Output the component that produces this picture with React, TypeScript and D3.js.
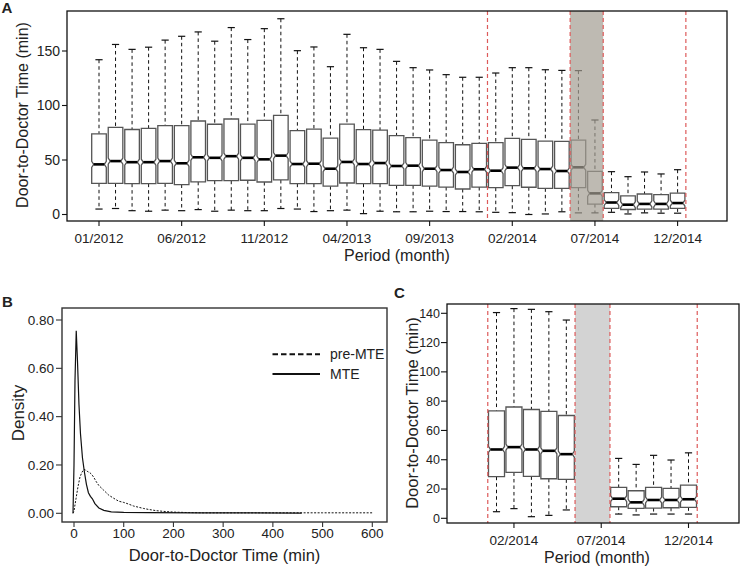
import React from "react";
import * as d3 from "d3";

// ---------- Panel A data (monthly, 01/2012 .. 12/2014) ----------
const upperA = [142, 156, 151.5, 153.5, 160, 163.5, 167.5, 159, 171.5, 160.5, 170.5, 179.6, 150.3, 153.7, 135.6, 165.3, 153, 151.5, 140.5, 134.7, 132.6, 128.3, 125.9, 125.9, 129.8, 134.7, 134.7, 132.8, 132.2, 132, 86.7, 39.3, 34.7, 39, 37.2, 41.1];
const q3A = [74, 80, 78, 79, 81.5, 81.5, 85.8, 82.8, 87.6, 83, 86.4, 91, 76.9, 78.4, 70, 83, 77.8, 77.5, 72.3, 70.5, 68.3, 65.9, 64, 65.3, 65.9, 69.9, 69, 67.4, 67.1, 68.3, 39.6, 20, 17, 18.8, 18.2, 19.7];
const medianA = [46, 49, 48, 48, 49, 47, 52.5, 52, 53.5, 52, 50.6, 54, 46.3, 46.6, 42, 48.2, 46.3, 47.2, 44.5, 44.8, 42, 40.8, 39, 41.5, 40.2, 43, 42.4, 41.7, 39.9, 43.3, 19.4, 11, 9, 9.7, 9.7, 10.5];
const q1A = [28.6, 28.5, 28.3, 28.3, 28.5, 27.5, 30, 31, 31, 31.4, 29.8, 31.7, 28.3, 28.3, 26, 28.9, 28.3, 28.3, 26.8, 26.8, 26, 25.2, 23.4, 25.2, 24.6, 26.4, 25, 24, 24, 24.7, 9.6, 5.6, 4.6, 4.9, 4.9, 5.6];
const lowerA = [5, 5.5, 3.5, 3, 4, 3.5, 4.5, 3, 4, 3.5, 3.5, 5.5, 5, 2.7, 3.5, 4, 0.8, 3, 2.5, 2.5, 3, 2.7, 2.7, 2.5, 2, 1.7, 0, 0.5, 2.5, 1.5, 1.5, 2, 0.5, 1.5, 1.2, 1.2];
const tickIdxA = [0, 5, 10, 15, 20, 25, 30, 35];
const tickLabelsA = ["01/2012", "06/2012", "11/2012", "04/2013", "09/2013", "02/2014", "07/2014", "12/2014"];
const yTicksA = [0, 50, 100, 150];
const redLinesA = [23.5, 28.5, 30.5, 35.5];
const bandA = [28.5, 30.5];

// ---------- Panel B data (density) ----------
const mteX = [-2, 0, 2, 4.5, 7, 10, 13, 17, 21, 25, 29, 33, 37, 42, 50, 60, 75, 100, 150, 250, 458];
const mteY = [0, 0.2, 0.55, 0.755, 0.63, 0.45, 0.33, 0.23, 0.17, 0.12, 0.085, 0.07, 0.06, 0.04, 0.022, 0.012, 0.006, 0.004, 0.003, 0.002, 0.001];
const preX = [-2, 0, 4, 8, 12, 16, 20, 24, 28, 32, 36, 40, 45, 50, 60, 70, 80, 90, 100, 110, 120, 130, 140, 150, 165, 180, 200, 230, 260, 300, 400, 500, 600];
const preY = [0, 0.01, 0.06, 0.11, 0.15, 0.17, 0.182, 0.178, 0.172, 0.168, 0.16, 0.148, 0.13, 0.115, 0.095, 0.075, 0.062, 0.05, 0.045, 0.038, 0.03, 0.025, 0.02, 0.016, 0.011, 0.008, 0.005, 0.003, 0.002, 0.002, 0.002, 0.002, 0.002];
const xTicksB = [0, 100, 200, 300, 400, 500, 600];
const yTicksB = [0, 0.2, 0.4, 0.6, 0.8];
const legendB = ["pre-MTE", "MTE"];

// ---------- Panel C data ----------
const idxC = [0, 1, 2, 3, 4, 7, 8, 9, 10, 11];
const upperC = [140.5, 143.2, 142.7, 141.1, 135.4, 40.9, 36.8, 43, 39.8, 44.7];
const q3C = [73.4, 76, 74.3, 73, 70.2, 21.1, 18.8, 21.1, 20.4, 22.7];
const medianC = [47, 48.6, 47, 46.1, 43.8, 13.4, 10.9, 12.5, 12.5, 13];
const q1C = [28.4, 31.3, 28.6, 27, 26.6, 7.9, 6.8, 7, 7.2, 7.5];
const lowerC = [4.5, 6.6, 1.1, 2, 5.7, 2.9, 2.3, 2.9, 2.9, 2.9];
const tickIdxC = [1, 6, 11];
const tickLabelsC = ["02/2014", "07/2014", "12/2014"];
const yTicksC = [0, 20, 40, 60, 80, 100, 120, 140];
const redLinesC = [-0.5, 4.5, 6.5, 11.5];
const bandC = [4.5, 6.5];

const FONT = "Arial, 'Liberation Sans', sans-serif";
const TXT = "#222";
const RED = "#dd5a5a";

type BoxProps = {
  cx: number; w: number; up: number; q3: number; med: number; q1: number; low: number;
  y: d3.ScaleLinear<number, number>;
};

function Box({ cx, w, up, q3, med, q1, low, y }: BoxProps) {
  const x0 = cx - w / 2, x1 = cx + w / 2;
  const yT = y(q3), yB = y(q1), yM = y(med);
  const nh = Math.min(3, (yB - yT) / 2 - 0.5);
  const nw = 2;
  const d = `M${x0},${yT}H${x1}V${yM - nh}L${x1 - nw},${yM}L${x1},${yM + nh}V${yB}H${x0}V${yM + nh}L${x0 + nw},${yM}L${x0},${yM - nh}Z`;
  const cw = 3.6;
  return (
    <g>
      <line x1={cx} x2={cx} y1={y(up)} y2={yT} stroke="#111" strokeWidth={1} strokeDasharray="3.5,3" />
      <line x1={cx} x2={cx} y1={yB} y2={y(low)} stroke="#111" strokeWidth={1} strokeDasharray="3.5,3" />
      <line x1={cx - cw} x2={cx + cw} y1={y(up)} y2={y(up)} stroke="#111" strokeWidth={1.2} />
      <line x1={cx - cw} x2={cx + cw} y1={y(low)} y2={y(low)} stroke="#111" strokeWidth={1.2} />
      <path d={d} fill="#fff" stroke="#555" strokeWidth={1.3} />
      <line x1={x0 + nw} x2={x1 - nw} y1={yM} y2={yM} stroke="#000" strokeWidth={2.6} />
    </g>
  );
}

export default function App() {
  // Panel A
  const A = { l: 67, r: 727, t: 11, b: 221 };
  const xA = d3.scaleLinear().domain([0, 35]).range([99, 677.6]);
  const yA = d3.scaleLinear().domain([0, 150]).range([214.5, 51]);
  const bwA = 14.6;

  // Panel B
  const B = { l: 62, r: 387, t: 308, b: 522 };
  const xB = d3.scaleLinear().domain([0, 600]).range([74, 372.3]);
  const yB = d3.scaleLinear().domain([0, 0.8]).range([513.3, 320]);
  const line = d3.line<[number, number]>().x((p) => xB(p[0])).y((p) => yB(p[1]));
  const mtePts = mteX.map((x, i) => [x, mteY[i]] as [number, number]);
  const prePts = preX.map((x, i) => [x, preY[i]] as [number, number]);

  // Panel C
  const C = { l: 447, r: 739, t: 304, b: 523 };
  const xC = d3.scaleLinear().domain([0, 11]).range([496.5, 688.5]);
  const yC = d3.scaleLinear().domain([0, 140]).range([518.3, 313.3]);
  const bwC = 16;

  return (
    <svg width={741} height={567} style={{ position: "absolute", left: 0, top: 0, background: "#fff" }} fontFamily={FONT}>
      <rect width={741} height={567} fill="#fff" />

      {/* ================= Panel A ================= */}
      <text x={1.5} y={13} fontSize={15} fontWeight="bold" fill={TXT}>A</text>
      {upperA.map((u, i) => (
        <Box key={i} cx={xA(i)} w={bwA} up={u} q3={q3A[i]} med={medianA[i]} q1={q1A[i]} low={lowerA[i]} y={yA} />
      ))}
      <rect x={xA(bandA[0])} y={A.t} width={xA(bandA[1]) - xA(bandA[0])} height={A.b - A.t} fill="#a39d92" opacity={0.7} />
      {redLinesA.map((v, i) => (
        <line key={i} x1={xA(v)} x2={xA(v)} y1={A.t} y2={A.b} stroke={RED} strokeWidth={1.2} strokeDasharray="4,3" />
      ))}
      <rect x={A.l} y={A.t} width={A.r - A.l} height={A.b - A.t} fill="none" stroke="#111" strokeWidth={1.3} />
      {yTicksA.map((t) => (
        <g key={t}>
          <line x1={A.l - 5} x2={A.l} y1={yA(t)} y2={yA(t)} stroke="#111" strokeWidth={1.1} />
          <text x={A.l - 7} y={yA(t)} dy="0.35em" textAnchor="end" fontSize={14} fill={TXT}>{t}</text>
        </g>
      ))}
      {tickIdxA.map((t, i) => (
        <g key={t}>
          <line x1={xA(t)} x2={xA(t)} y1={A.b} y2={A.b + 5} stroke="#111" strokeWidth={1.1} />
          <text x={xA(t)} y={242.5} textAnchor="middle" fontSize={13.5} fill={TXT}>{tickLabelsA[i]}</text>
        </g>
      ))}
      <text x={(A.l + A.r) / 2} y={261} textAnchor="middle" fontSize={16} fill={TXT}>Period (month)</text>
      <text transform="translate(22,115) rotate(-90)" dy="0.35em" textAnchor="middle" fontSize={16} fill={TXT}>Door-to-Doctor Time (min)</text>

      {/* ================= Panel B ================= */}
      <text x={2} y={307} fontSize={15} fontWeight="bold" fill={TXT}>B</text>
      <path d={line(prePts) || ""} fill="none" stroke="#111" strokeWidth={1} strokeDasharray="2,1.5" />
      <path d={line(mtePts) || ""} fill="none" stroke="#111" strokeWidth={1.2} />
      <rect x={B.l} y={B.t} width={B.r - B.l} height={B.b - B.t} fill="none" stroke="#333" strokeWidth={1.4} />
      {yTicksB.map((t) => (
        <g key={t}>
          <line x1={B.l - 6} x2={B.l} y1={yB(t)} y2={yB(t)} stroke="#333" strokeWidth={1.1} />
          <text x={B.l - 8} y={yB(t)} dy="0.35em" textAnchor="end" fontSize={13.5} fill={TXT}>{d3.format(".2f")(t)}</text>
        </g>
      ))}
      {xTicksB.map((t) => (
        <g key={t}>
          <line x1={xB(t)} x2={xB(t)} y1={B.b} y2={B.b + 5} stroke="#333" strokeWidth={1.1} />
          <text x={xB(t)} y={538} textAnchor="middle" fontSize={13.5} fill={TXT}>{t}</text>
        </g>
      ))}
      <text x={(B.l + B.r) / 2} y={561} textAnchor="middle" fontSize={16.5} fill={TXT}>Door-to-Doctor Time (min)</text>
      <text transform="translate(18,413) rotate(-90)" dy="0.35em" textAnchor="middle" fontSize={17} fill={TXT}>Density</text>
      {legendB.map((lab, i) => (
        <g key={lab}>
          <line x1={272.5} x2={320} y1={354.3 + i * 19.7} y2={354.3 + i * 19.7} stroke="#111" strokeWidth={2}
            strokeDasharray={i === 0 ? "5.5,3" : undefined} />
          <text x={330} y={354.3 + i * 19.7} dy="0.35em" fontSize={14} fill={TXT}>{lab}</text>
        </g>
      ))}

      {/* ================= Panel C ================= */}
      <text x={394} y={298} fontSize={15} fontWeight="bold" fill={TXT}>C</text>
      <rect x={xC(bandC[0])} y={C.t} width={xC(bandC[1]) - xC(bandC[0])} height={C.b - C.t} fill="#d3d3d3" />
      {idxC.map((k, i) => (
        <Box key={k} cx={xC(k)} w={bwC} up={upperC[i]} q3={q3C[i]} med={medianC[i]} q1={q1C[i]} low={lowerC[i]} y={yC} />
      ))}
      {redLinesC.map((v, i) => (
        <line key={i} x1={xC(v)} x2={xC(v)} y1={C.t} y2={C.b} stroke={RED} strokeWidth={1.2} strokeDasharray="4,3" />
      ))}
      <rect x={C.l} y={C.t} width={C.r - C.l} height={C.b - C.t} fill="none" stroke="#111" strokeWidth={1.3} />
      {yTicksC.map((t) => (
        <g key={t}>
          <line x1={C.l - 6} x2={C.l} y1={yC(t)} y2={yC(t)} stroke="#111" strokeWidth={1.1} />
          <text x={C.l - 7} y={yC(t)} dy="0.35em" textAnchor="end" fontSize={12.5} fill={TXT}>{t}</text>
        </g>
      ))}
      {tickIdxC.map((t, i) => (
        <g key={t}>
          <line x1={xC(t)} x2={xC(t)} y1={C.b} y2={C.b + 5} stroke="#111" strokeWidth={1.1} />
          <text x={xC(t)} y={545} textAnchor="middle" fontSize={13.5} fill={TXT}>{tickLabelsC[i]}</text>
        </g>
      ))}
      <text x={597} y={563} textAnchor="middle" fontSize={16} fill={TXT}>Period (month)</text>
      <text transform="translate(412,413) rotate(-90)" dy="0.35em" textAnchor="middle" fontSize={16.5} fill={TXT}>Door-to-Doctor Time (min)</text>
    </svg>
  );
}
